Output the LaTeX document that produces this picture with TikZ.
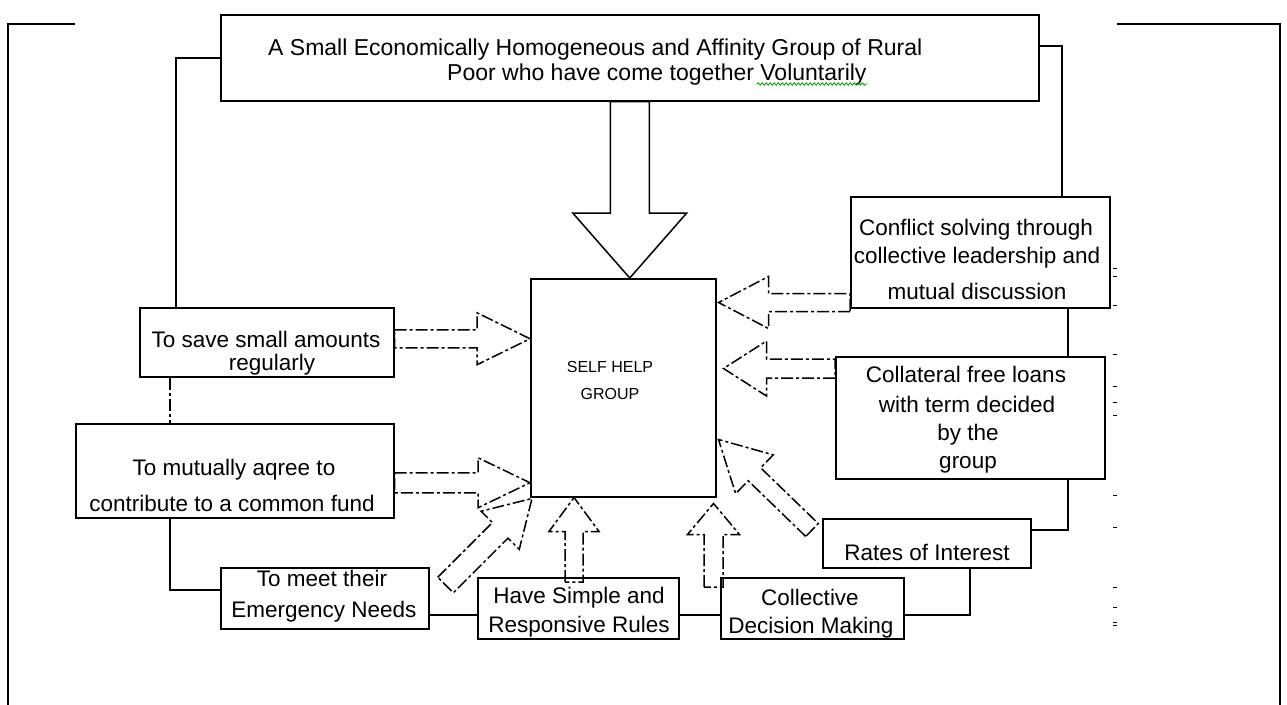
\documentclass[tikz,border=0pt]{standalone}
\usepackage{fontspec}
\setmainfont{Liberation Sans}
\usetikzlibrary{calc,decorations.pathmorphing}
\newcommand\blkarrow[6]{% style, tail, tip, shaft half, head half, head length
  \coordinate (ba-h) at ($(#3)!#6pt!(#2)$);
  \draw[#1] ($(#2)!#4pt!90:(#3)$) -- ($(ba-h)!#4pt!90:(#3)$) -- ($(ba-h)!#5pt!90:(#3)$) -- (#3)
    -- ($(ba-h)!#5pt!-90:(#3)$) -- ($(ba-h)!#4pt!-90:(#3)$) -- ($(#2)!#4pt!-90:(#3)$) -- cycle;}
\newcommand\txtline[4]{\node[lbl] (#1) at (#2,#3) {#4};}
\begin{document}
\begin{tikzpicture}[x=1pt,y=-1pt,
  box/.style={draw, line width=1.5pt, inner sep=0pt, anchor=north west},
  lbl/.style={anchor=base, inner sep=0pt, font=\fontsize{22.5}{27}\selectfont},
  conn/.style={line width=1.5pt},
  dd/.style={line width=1.5pt, dash pattern=on 12pt off 3pt on 3pt off 3pt},
  ]
\useasboundingbox (0,0) rectangle (1287,704);
% frame
\draw[line width=2pt] (75,24) -- (8,24) -- (8,710);
\draw[line width=2pt] (1117,24) -- (1280,24) -- (1280,710);
% boxes
\node[box, minimum width=818pt, minimum height=86pt] (top) at (220,14) {};
\node[box, minimum width=185pt, minimum height=218pt] (shg) at (530,278) {};
\node[box, minimum width=254pt, minimum height=69pt] (save) at (139,307) {};
\node[box, minimum width=318pt, minimum height=94pt] (mut) at (75,423) {};
\node[box, minimum width=208pt, minimum height=61pt] (meet) at (220,567) {};
\node[box, minimum width=201pt, minimum height=61pt] (have) at (477,577) {};
\node[box, minimum width=183pt, minimum height=61pt] (coll) at (720,577) {};
\node[box, minimum width=208pt, minimum height=49pt] (rates) at (822,518) {};
\node[box, minimum width=269pt, minimum height=122pt] (colt) at (835,356) {};
\node[box, minimum width=259pt, minimum height=111pt] (conf) at (850,196) {};
% texts
\node[lbl, anchor=base west, font=\fontsize{23}{27}\selectfont] (top1) at (268,55) {A Small Economically Homogeneous and Affinity Group of Rural};
\node[lbl, anchor=base west, font=\fontsize{23}{27}\selectfont] (top2) at (447,80) {Poor who have come together Voluntarily};
\draw[green!60!black, line width=0.8pt, decorate, decoration={snake, segment length=4pt, amplitude=1.2pt}] (757,84) -- (867,84);
\node[lbl, font=\fontsize{16}{20}\selectfont] (shg1) at (610,372) {SELF HELP};
\node[lbl, font=\fontsize{16}{20}\selectfont] (shg2) at (610,399) {GROUP};
\txtline{save1}{266}{347}{To save small amounts}
\txtline{save2}{272}{370}{regularly}
\txtline{mut1}{234}{475}{To mutually aqree to}
\txtline{mut2}{232}{511}{contribute to a common fund}
\txtline{meet1}{322}{586}{To meet their}
\txtline{meet2}{324}{617}{Emergency Needs}
\txtline{have1}{579}{603}{Have Simple and}
\txtline{have2}{579}{632}{Responsive Rules}
\txtline{coll1}{810}{605}{Collective}
\txtline{coll2}{811}{633}{Decision Making}
\txtline{rat1}{927}{560}{Rates of Interest}
\txtline{colt1}{966}{382}{Collateral free loans}
\txtline{colt2}{967}{412}{with term decided}
\txtline{colt3}{968}{440}{by the}
\txtline{colt4}{968}{468}{group}
\txtline{conf1}{976}{235}{Conflict solving through}
\txtline{conf2}{977}{263}{collective leadership and}
\txtline{conf3}{977}{299}{mutual discussion}
% connectors
\draw[conn] (top.west) -| ($(save.north west)+(37,0)$);
\draw[conn] ($(top.north east)+(0,32)$) -| ($(conf.north west)+(212,0)$);
\draw[dd] ($(save.south west)+(31,0)$) -- ($(mut.north west)+(95,0)$);
\draw[conn] ($(mut.south west)+(95,0)$) |- ($(meet.north west)+(0,23)$);
\draw[conn] ($(meet.north east)+(0,48)$) -- ($(have.north west)+(0,38)$);
\draw[conn] ($(have.north east)+(0,38)$) -- ($(coll.north west)+(0,38)$);
\draw[conn] ($(coll.north east)+(0,38)$) -| ($(rates.south west)+(148,0)$);
\draw[conn] ($(rates.north east)+(0,12)$) -| ($(colt.south west)+(233,0)$);
\draw[conn] ($(colt.north west)+(233,0)$) -- ($(conf.south west)+(218,0)$);
% block arrows
\coordinate (a0t) at (top.south |- shg.north);
\blkarrow{conn}{top.south}{a0t}{19.5}{57}{65}
\coordinate (a1s) at ($(save.east)+(0,-3.5)$);
\coordinate (a1t) at (shg.west |- a1s);
\blkarrow{dd}{a1s}{a1t}{9}{26}{53}
\coordinate (a2s) at ($(mut.east)+(0,12)$);
\coordinate (a2t) at (shg.west |- a2s);
\blkarrow{dd}{a2s}{a2t}{10}{25}{52}
\coordinate (a3s) at ($(meet.north east)+(16,18)$);
\coordinate (a3t) at ($(shg.south west)+(2,1)$);
\blkarrow{dd}{a3s}{a3t}{11}{27}{45}
\coordinate (a4s) at ($(have.north west)+(97,5)$);
\coordinate (a4t) at (a4s |- shg.south);
\blkarrow{dd}{a4s}{a4t}{9}{25}{34}
\coordinate (a5s) at ($(coll.north west)+(-6.5,10)$);
\coordinate (a5t) at ($(a5s |- shg.south)+(0,6)$);
\blkarrow{dd}{a5s}{a5t}{9.5}{26}{31}
\coordinate (a6s) at ($(conf.south west)+(0,-6)$);
\coordinate (a6t) at ($(shg.east |- a6s)+(2,0)$);
\blkarrow{dd}{a6s}{a6t}{9}{26}{50}
\coordinate (a7s) at ($(colt.north west)+(0,12.5)$);
\coordinate (a7t) at ($(shg.east |- a7s)+(7,0)$);
\blkarrow{dd}{a7s}{a7t}{9.5}{27.5}{43}
\coordinate (a8s) at ($(rates.north west)+(-10,12)$);
\coordinate (a8t) at ($(shg.south east)+(2,-58)$);
\blkarrow{dd}{a8s}{a8t}{9}{27}{50}
% small marks at right
\foreach \yy in {268,276,305,354,386,402,415,495,527,587,607,622,625}
  \draw[line width=1pt] (1113,\yy) -- (1117,\yy);
\end{tikzpicture}
\end{document}
